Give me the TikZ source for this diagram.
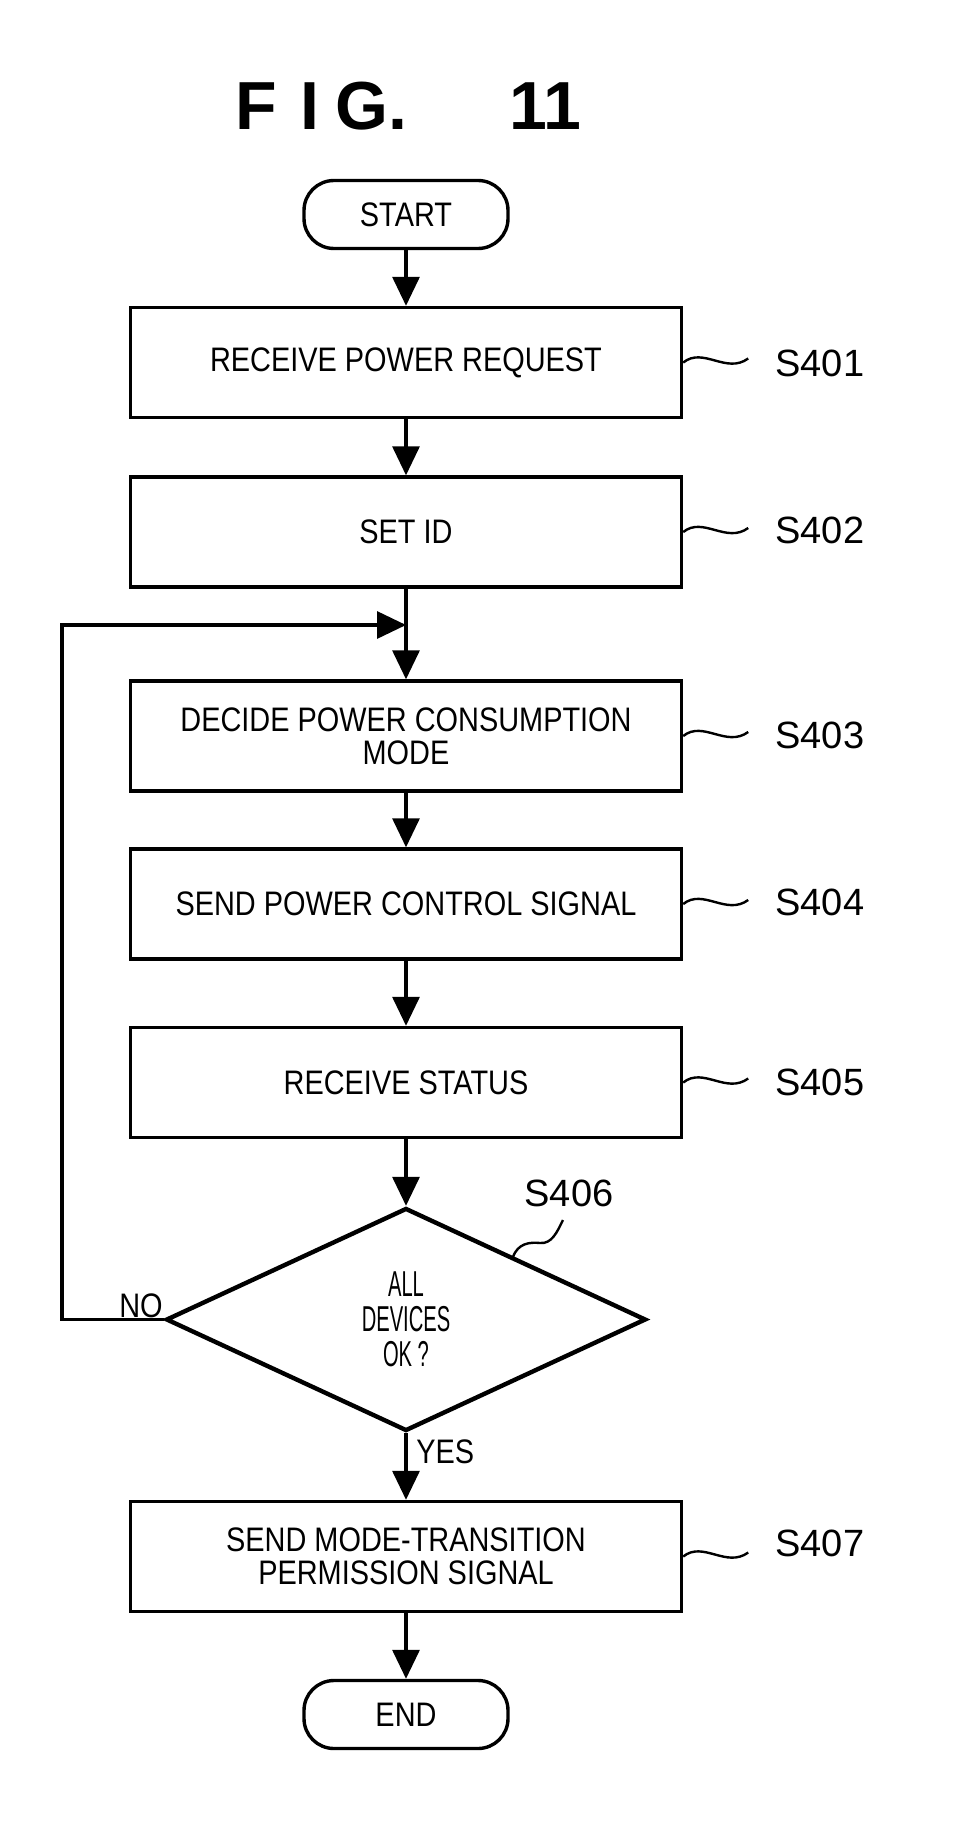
\documentclass[tikz,border=0pt]{standalone}
\usepackage{fontspec}
\setmainfont{Liberation Sans}
\newfontfamily\nf[FakeStretch=0.85]{Liberation Sans}
\newfontfamily\df[FakeStretch=0.56]{Liberation Sans}
\usetikzlibrary{arrows.meta,shapes.geometric}
\begin{document}
\begin{tikzpicture}[x=0.5pt,y=-0.5pt,
  stepbox/.style={draw,line width=1.7pt,minimum width=275.5pt,minimum height=55pt,inner sep=0pt,align=center,font=\nf\fontsize{17}{16.5}\selectfont},
  term/.style={draw,line width=1.7pt,rounded corners=15pt,minimum width=102pt,minimum height=34pt,inner sep=0pt,font=\nf\fontsize{17}{16}\selectfont},
  dec/.style={draw,diamond,line width=2.2pt,minimum width=240pt,minimum height=111.5pt,inner sep=0pt,align=center,font=\df\fontsize{18}{17.5}\selectfont},
  arr/.style={line width=1.6pt,-{Triangle[length=14.5pt,width=13.5pt]}},
  lead/.style={line width=1.2pt},
  lab/.style={font=\fontsize{19}{22}\selectfont,inner sep=0pt},
  small/.style={font=\nf\fontsize{17}{16}\selectfont,inner sep=0pt}]
\useasboundingbox (0,0) rectangle (960,1825);
\node[font=\bfseries\fontsize{34}{40}\selectfont,inner sep=0pt,anchor=west] (title) at (235,106) {F\hspace{12pt}I\hspace{8pt}G.\hspace{51pt}11};
\node[term] (start) at (406,214.5) {START};
\node[stepbox] (s1) at (406,362.5) {RECEIVE POWER REQUEST};
\node[stepbox] (s2) at (406,532) {SET ID};
\node[stepbox] (s3) at (406,736) {DECIDE POWER CONSUMPTION\\MODE};
\node[stepbox] (s4) at (406,904) {SEND POWER CONTROL SIGNAL};
\node[stepbox] (s5) at (406,1082.5) {RECEIVE STATUS};
\node[dec] (d) at (406,1319.5) {ALL\\DEVICES\\OK ?};
\node[stepbox] (s7) at (406,1556.5) {SEND MODE-TRANSITION\\PERMISSION SIGNAL};
\node[term] (end) at (406,1714.5) {END};
\coordinate (j) at (406,625);
\coordinate (lx) at (62,625);
\draw[arr] (start.south) -- (s1.north);
\draw[arr] (s1.south) -- (s2.north);
\draw[arr] (s2.south) -- (s3.north);
\draw[arr] (s3.south) -- (s4.north);
\draw[arr] (s4.south) -- (s5.north);
\draw[arr] (s5.south) -- (d.north);
\draw[arr] (d.south) -- (s7.north);
\draw[arr] (s7.south) -- (end.north);
\draw[arr] (d.west) -| (lx) -- (j);
\node[small,anchor=south east] (no) at (163,1318) {NO};
\node[small,anchor=west] (yes) at (416,1452) {YES};
\foreach \n/\t/\ly in {s1/S401/363,s2/S402/530,s3/S403/735,s4/S404/902,s5/S405/1082,s7/S407/1543}{
  \draw[lead] (\n.east) .. controls +(20,-16) and +(-22,16) .. ++(65,-4);
  \node[lab,anchor=west] (l\n) at (775,\ly) {\t};
}
\coordinate (dp) at (513,1257);
\draw[lead] (dp) .. controls (518,1243) and (530,1242) .. (540,1243) .. controls (552,1244) and (557,1232) .. (563,1220);
\node[lab] (l6) at (569,1193) {S406};
\end{tikzpicture}
\end{document}
